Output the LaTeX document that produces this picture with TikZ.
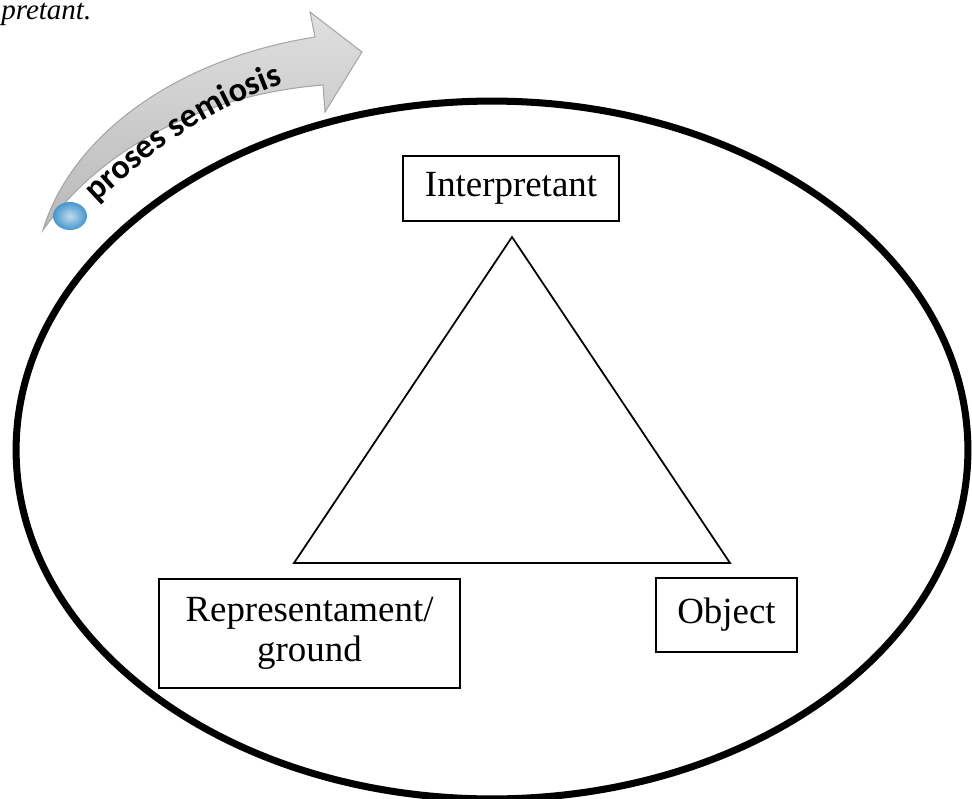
\documentclass[tikz,border=0pt]{standalone}
\usepackage{fontspec}
\setmainfont{Liberation Serif}
\newfontfamily\semfont{Carlito}
\usetikzlibrary{calc,decorations.text}
\pgfdeclarelayer{latar}
\pgfsetlayers{latar, main}
\definecolor{biru}{RGB}{70,150,205}
\tikzstyle{term}=[draw=black,line width=1pt,fill=white,inner sep=0pt,align=center,font=\fontsize{21}{22.5}\selectfont]

\begin{document}
\begin{tikzpicture}[x=0.02cm,y=-0.02cm]
		\useasboundingbox (0,0) rectangle (972,798);
		\node [term,minimum width=4.32cm,minimum height=1.3cm] (interp) at (511,188.5) {Interpretant};
		\node [term,minimum width=6.02cm,minimum height=2.18cm] (repr) at (309.5,633.5) {\raisebox{-3pt}{Representament/}\\\raisebox{-3pt}{ground}};
		\node [term,minimum width=2.82cm,minimum height=1.48cm] (obj) at (726.5,615) {Object};
		\node [anchor=base west,inner sep=0pt,font=\itshape\fontsize{16.5}{16.5}\selectfont] (capt) at (1,19) {pretant.};
		\coordinate (apex) at (512,237);
		\coordinate (kiri) at (294,563);
		\coordinate (kanan) at (730,563);
		\coordinate (pusat) at (492,450);
		\begin{pgfonlayer}{latar}
			\draw [line width=4pt] (pusat) ellipse [x radius=9.52cm, y radius=6.98cm];
			\draw [line width=1pt] (apex)--(kiri)--(kanan)--cycle;
		\end{pgfonlayer}
		\shade [top color=gray!25,bottom color=gray!55,draw=gray!70,line width=0.6pt] (43,230) .. controls (70,140) and (170,60) .. (315,37) -- (310,12) -- (362,52) -- (325,112) -- (323,85) .. controls (200,95) and (100,150) .. cycle;
		\shade [inner color=biru!35,outer color=biru] (70,216) ellipse [x radius=0.34cm, y radius=0.28cm];
		\path [decorate,decoration={text along path,text={|\semfont\bfseries\fontsize{19.5}{19.5}\selectfont|proses semiosis}}] (97,203) .. controls (140,162) and (200,110) .. (300,78);
	\end{tikzpicture}
\end{document}
